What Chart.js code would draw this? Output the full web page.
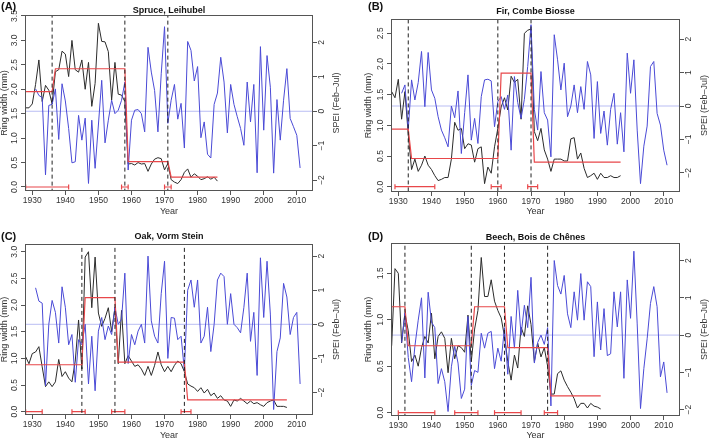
<!DOCTYPE html>
<html>
<head>
<meta charset="utf-8">
<script src="https://cdn.jsdelivr.net/npm/chart.js@4.4.1/dist/chart.umd.min.js"></script>
<style>
  body { margin: 0; background: #fff; }
  #wrap { position: relative; width: 709px; height: 440px; }
  canvas { position: absolute; }
</style>
</head>
<body>
<div id="wrap">
  <canvas id="cA"></canvas>
  <canvas id="cB"></canvas>
  <canvas id="cC"></canvas>
  <canvas id="cD"></canvas>
</div>
<script>
// ---- shared ----
const speiFirstYear = 1931;
const xTicks = [1930, 1940, 1950, 1960, 1970, 1980, 1990, 2000, 2010];
const speiTicks = [-2, -1, 0, 1, 2];

// ---- (A) Spruce, Leihubel ----
const speiA = [
  0.65, 0.46, 0.4, -1.85, 0.17, 0.2, 0.65, -0.82, 0.8, 0.3,
  -0.5, -1.5, -1.47, -0.12, -0.84, -0.2, -2.1, -0.26, -1.66, -0.4,
  0.9, -0.92, -0.26, 0.32, -0.07, 0.03, 0.32, 0.85, -1.71, -0.26,
  0.03, 0.05, -0.07, -0.6, 1.86, 1.14, 0.6, -0.6, 1.09, 2.46,
  -0.35, 0.32, 0.78, -0.23, 0.23, -1.07, 2.03, 1.77, 0.88, 1.3,
  -0.77, -0.31, -1.25, -1.36, 0.2, 0.53, 1.57, 0.85, -0.63, 0.78,
  0.2, -0.16, -0.5, -0.99, 0.85, -0.31, 0.78, -1.79, 1.88, -0.55,
  1.62, 0.7, -1.8, 0.34, -0.84, 0.32, 1.24, -0.21, -0.45, -0.7,
  -1.65
];
const rwStartA = 1928;
const rwA = [
  1.62, 1.62, 1.7, 2.1, 2.6, 1.75, 2.08, 1.98, 1.7, 2.36,
  2.4, 2.78, 2.72, 2.26, 3.0, 2.4, 2.35, 2.6, 2.0, 2.55,
  1.65, 2.12, 3.35, 2.98, 2.97, 2.77, 1.78, 2.55, 1.9, 1.88,
  1.75, 0.47, 0.48, 0.45, 0.5, 0.47, 0.48, 0.32, 0.47, 0.57,
  0.6, 0.58, 0.35, 0.48, 0.15, 0.1, 0.07, 0.15, 0.3, 0.37,
  0.2, 0.27, 0.22, 0.15, 0.17, 0.21, 0.16, 0.2, 0.12
];
const breaksA = [1936, 1958, 1971];
const meansA = [1.95, 2.42, 0.52, 0.2];
const meanSpanA = [1928, 1986];
const ciA = [[1928, 1941], [1957, 1959], [1970, 1972]];
const rwTicksA = [0, 0.5, 1, 1.5, 2, 2.5, 3, 3.5];

// ---- (B) Fir, Combe Biosse ----
const speiB = [
  0.38, 0.63, -0.7, 0.78, 0.18, 0.7, 1.63, -0.02, 1.6, 0.48,
  0.23, -0.32, -0.72, -0.95, -1.22, 0.0, -0.35, 0.45, -1.42, -0.2,
  0.93, -1.02, -0.37, -1.12, 0.28, 0.78, 0.8, 0.75, -0.62, 0.13,
  0.28, -0.1, 0.33, -1.32, 0.88, 0.1, -0.37, 0.2, 1.18, 2.43,
  -0.1, -0.72, 1.03, -0.2, -0.42, -1.52, 2.13, 1.38, 0.48, 1.28,
  -0.32, 0.0, 0.63, -0.2, 0.58, -0.1, 1.33, 0.93, -0.97, 0.73,
  -0.82, -0.15, -1.17, -0.1, 0.38, -1.14, -0.2, -1.37, 1.58, 0.38,
  1.38, -0.72, -2.32, -1.2, -0.6, 1.18, 1.33, -0.22, -0.57, -1.32,
  -1.77
];
const rwStartB = 1928;
const rwB = [
  1.55, 1.45, 1.75, 1.1, 1.55, 0.85, 0.28, 0.45, 0.25, 0.35,
  0.5, 0.35, 0.28, 0.18, 0.1, 0.12, 0.15, 0.15, 0.45, 1.05,
  0.92, 0.95, 0.62, 0.7, 0.68, 0.4, 0.62, 0.65, 0.05, 0.32,
  0.22, 0.65, 0.95, 1.3, 1.45, 1.25, 1.8, 1.7, 1.75, 1.1,
  2.5, 2.55, 2.57, 0.9, 0.75, 0.95, 0.6, 0.45, 0.25, 0.45,
  0.45, 0.45, 0.42, 0.42, 0.78, 0.8, 0.45, 0.55, 0.3, 0.15,
  0.18, 0.22, 0.12, 0.22, 0.15, 0.15, 0.18, 0.15, 0.15, 0.18
];
const breaksB = [1933, 1960, 1970];
const meansB = [0.94, 0.46, 1.85, 0.4];
const meanSpanB = [1928, 1997];
const ciB = [[1929, 1941], [1958, 1961], [1969, 1972]];
const rwTicksB = [0, 0.5, 1, 1.5, 2, 2.5];

// ---- (C) Oak, Vorm Stein ----
const speiC = [
  1.07, 0.68, 0.62, -1.8, 0.0, 0.7, 0.35, -0.55, 1.1, 0.5,
  -0.6, -0.3, -1.7, -0.45, -0.6, 0.0, -1.75, -0.35, -1.95, -0.2,
  0.2, -0.45, -0.05, -0.3, 0.5, 0.0, 0.15, 1.5, -1.15, -0.3,
  -0.6, -0.2, 0.0, -0.55, 2.0, 0.1, -0.35, -0.55, 0.9, 1.85,
  -1.0, 0.2, 0.18, -0.45, -0.35, -1.35, 1.0, 1.3, 0.5, 1.3,
  -0.55, -0.35, 0.5, -0.8, 0.0, 1.3, 1.5, 1.4, 0.0, 0.9,
  0.0, -0.1, -0.25, 0.5, 1.5, -0.5, 0.35, -1.5, 1.95, 0.2,
  1.85, 0.3, -2.5, -0.8, -0.4, 1.2, 0.8, -0.3, 0.2, 0.35,
  -1.75
];
const rwStartC = 1928;
const rwC = [
  1.03, 0.9, 1.09, 1.12, 1.22, 0.84, 0.47, 0.56, 0.47, 0.56,
  0.98, 0.66, 0.75, 0.63, 0.56, 0.95, 1.72, 0.8, 2.9, 3.0,
  1.95, 2.9, 1.85, 1.6, 1.75, 1.95, 1.5, 1.95, 0.9, 1.9,
  0.9, 1.05, 0.95, 0.85, 0.88, 0.8, 0.68, 0.85, 0.68, 0.87,
  1.12, 0.88, 0.75, 0.85, 0.75, 0.87, 0.95, 0.9, 0.75, 0.52,
  0.48, 0.45, 0.38, 0.45, 0.35, 0.42, 0.3, 0.35, 0.25, 0.3,
  0.22, 0.2, 0.1, 0.22, 0.2, 0.25, 0.2, 0.15, 0.2, 0.15,
  0.17, 0.13, 0.1, 0.17, 0.2, 0.22, 0.1, 0.1, 0.1, 0.08
];
const breaksC = [1945, 1955, 1976];
const meansC = [0.88, 2.14, 0.93, 0.22];
const meanSpanC = [1928, 2007];
const ciC = [[1928, 1933], [1942, 1946], [1954, 1958], [1975, 1978]];
const rwTicksC = [0, 0.5, 1, 1.5, 2, 2.5, 3];

// ---- (D) Beech, Bois de Chênes ----
const speiD = [
  -0.2, 0.6, -0.6, -1.25, -0.3, 0.4, 1.0, -1.15, 1.15, 0.35,
  0.2, -1.3, -0.9, -1.25, -2.05, -0.85, -0.3, -0.75, -1.7, -1.45,
  0.5, -1.35, -0.95, -1.0, 0.05, -0.35, 0.05, 0.1, -0.9, -0.35,
  -0.7, 0.2, -1.05, 0.5, -0.35, 1.2, 0.0, 0.8, 0.2, 1.55,
  -0.75, -0.2, 0.0, -0.25, 0.2, -1.9, 2.0, 1.33, 1.1, 1.6,
  0.57, 0.2, 1.16, 0.4, 1.65, 0.4, 1.43, 1.3, -0.58, 0.89,
  -0.4, 0.71, -0.55, -0.5, 1.16, 0.22, 1.16, -1.16, 1.48, 0.45,
  2.25, 0.3, -1.97, -0.9, -0.1, 0.85, 1.3, 0.76, -1.12, -0.72,
  -1.55
];
const rwStartD = 1928;
const rwD = [
  0.72, 1.55, 1.5, 0.75, 1.07, 0.88, 0.55, 0.62, 0.5, 0.7,
  0.82, 0.75, 1.07, 0.58, 0.82, 0.87, 0.8, 0.43, 0.8, 0.58,
  0.72, 0.7, 0.65, 1.05, 0.55, 0.9, 1.1, 1.67, 1.25, 1.25,
  1.43, 1.2, 1.1, 1.02, 0.82, 0.55, 0.35, 0.62, 0.48, 0.92,
  0.82, 1.15, 0.95, 0.55, 0.75, 0.6, 0.7, 0.5, 0.2, 0.2,
  0.42, 0.45, 0.35, 0.28, 0.22, 0.15, 0.05, 0.1, 0.1, 0.05,
  0.1, 0.07, 0.06, 0.04
];
const breaksD = [1932, 1952, 1962, 1975];
const meansD = [1.14, 0.72, 1.14, 0.7, 0.18];
const meanSpanD = [1928, 1991];
const ciD = [[1930, 1941], [1947, 1954], [1959, 1967], [1974, 1978]];
const rwTicksD = [0, 0.5, 1, 1.5];

// ---- drawing ----
const FONT_N = '"Liberation Sans Narrow", "Arial Narrow", "Liberation Sans", Arial, sans-serif';
const FONT_R = '"Liberation Sans", Arial, sans-serif';
const BLUE = '#4a4ad6';
const RED = '#e8474a';
const INK = '#2b2b2b';

const frameText = {
  id: 'frameText',
  afterDraw(chart, args, o) {
    const { ctx, chartArea: a } = chart;
    const cx = (a.left + a.right) / 2;
    const cy = (a.top + a.bottom) / 2;
    ctx.save();
    ctx.strokeStyle = '#555';
    ctx.lineWidth = 1;
    ctx.strokeRect(Math.round(a.left) + 0.5, Math.round(a.top) + 0.5,
      Math.round(a.right - a.left) - 1, Math.round(a.bottom - a.top) - 1);

    ctx.textBaseline = 'middle';
    ctx.fillStyle = '#111';
    ctx.textAlign = 'left';
    ctx.font = 'bold 11px ' + FONT_R;
    ctx.fillText(o.letter, o.letterX, o.letterY);

    ctx.textAlign = 'center';
    ctx.font = 'bold 9px ' + FONT_N;
    ctx.fillText(o.title, cx, o.titleY);

    ctx.fillStyle = '#333';
    ctx.font = '9px ' + FONT_R;
    ctx.fillText('Year', cx, a.bottom + o.yearGap);

    ctx.save();
    ctx.translate(o.leftTitleX, cy);
    ctx.rotate(-Math.PI / 2);
    ctx.fillText('Ring width (mm)', 0, 0);
    ctx.restore();

    ctx.save();
    ctx.translate(a.right + o.rightTitleGap, cy);
    ctx.rotate(-Math.PI / 2);
    ctx.fillText('SPEI (Feb\u2013Jul)', 0, 0);
    ctx.restore();
    ctx.restore();
  }
};

function makePanel(p) {
  const cv = document.getElementById(p.id);
  const [bx, by, W, H] = p.box;
  cv.width = W; cv.height = H;
  cv.style.left = bx + 'px'; cv.style.top = by + 'px';
  cv.style.width = W + 'px'; cv.style.height = H + 'px';
  const plotL = p.plot[0] - bx, plotR = p.plot[1] - bx;
  const plotT = p.plot[2] - by, plotB = p.plot[3] - by;

  const blue = p.spei.map((v, i) => ({ x: speiFirstYear + i, y: v }));
  const black = p.rw.map((v, i) => ({ x: p.rwStart + i, y: v }));

  const starts = [p.meanSpan[0]].concat(p.breaks.map(b => b + 1));
  const ends = p.breaks.concat([p.meanSpan[1]]);
  const red = [];
  p.means.forEach((m, i) => { red.push({ x: starts[i], y: m }, { x: ends[i], y: m }); });

  const dashed = [];
  p.breaks.forEach(b => { dashed.push({ x: b, y: -10 }, { x: b, y: 10 }, { x: b, y: null }); });

  const ci = [];
  p.ci.forEach(([lo, hi]) => { ci.push({ x: lo, y: 0 }, { x: hi, y: 0 }, { x: hi, y: null }); });

  const tickFont = { family: FONT_N, size: 8.5 };
  const line = { pointRadius: 0, pointHoverRadius: 0, fill: false, tension: 0, spanGaps: false };

  new Chart(cv, {
    type: 'line',
    data: {
      datasets: [
        Object.assign({ data: dashed, yAxisID: 'y', borderColor: '#222', borderWidth: 1, borderDash: [4, 3] }, line),
        Object.assign({ data: red, yAxisID: 'y', borderColor: RED, borderWidth: 1.2 }, line),
        Object.assign({}, line, { data: ci, yAxisID: 'y', borderColor: RED, borderWidth: 1.2,
          pointRadius: 2.5, pointStyle: 'line', rotation: 90, pointBorderColor: RED, pointBorderWidth: 1.2 }),
        Object.assign({ data: blue, yAxisID: 'y2', borderColor: BLUE, borderWidth: 1 }, line),
        Object.assign({ data: black, yAxisID: 'y', borderColor: INK, borderWidth: 1 }, line),
        Object.assign({ data: [{ x: 1900, y: 0 }, { x: 2100, y: 0 }], yAxisID: 'y2', borderColor: '#b9bdf3', borderWidth: 1 }, line)
      ]
    },
    options: {
      responsive: false,
      animation: false,
      events: [],
      layout: { autoPadding: false, padding: { left: 0, right: 0, top: plotT, bottom: 0 } },
      plugins: {
        legend: { display: false },
        title: { display: false },
        tooltip: { enabled: false },
        frameText: p.text
      },
      scales: {
        x: {
          type: 'linear', position: 'bottom', min: 1927.8, max: 2014.9,
          afterBuildTicks: s => { s.ticks = xTicks.map(v => ({ value: v })); },
          afterFit: s => { s.height = H - plotB; },
          ticks: { autoSkip: false, maxRotation: 0, minRotation: 0, padding: 1, color: '#333',
            font: tickFont, callback: v => String(v) },
          grid: { drawOnChartArea: false, drawTicks: true, tickLength: 4, color: '#555' },
          border: { display: false }
        },
        y: {
          type: 'linear', position: 'left', min: p.rwRange[0], max: p.rwRange[1],
          afterBuildTicks: s => { s.ticks = p.rwTicks.map(v => ({ value: v })); },
          afterFit: s => { s.width = plotL; },
          ticks: { autoSkip: false, minRotation: 90, maxRotation: 90, crossAlign: 'center', padding: 0,
            color: '#333', font: tickFont, callback: v => v.toFixed(1) },
          grid: { drawOnChartArea: false, drawTicks: true, tickLength: 4, color: '#555' },
          border: { display: false }
        },
        y2: {
          type: 'linear', position: 'right', min: p.speiRange[0], max: p.speiRange[1],
          afterBuildTicks: s => { s.ticks = speiTicks.map(v => ({ value: v })); },
          afterFit: s => { s.width = W - plotR; },
          ticks: { autoSkip: false, minRotation: 90, maxRotation: 90, crossAlign: 'center', padding: 0,
            color: '#333', font: tickFont, callback: v => (v < 0 ? '\u2212' + (-v) : String(v)) },
          grid: { drawOnChartArea: false, drawTicks: true, tickLength: 4, color: '#555' },
          border: { display: false }
        }
      }
    },
    plugins: [frameText]
  });
}

makePanel({
  id: 'cA', box: [0, 0, 354, 220], plot: [25, 313, 15, 191],
  rwRange: [-0.082, 3.52], speiRange: [-2.32, 2.8], rwTicks: rwTicksA,
  spei: speiA, rw: rwA, rwStart: rwStartA, breaks: breaksA, means: meansA, meanSpan: meanSpanA, ci: ciA,
  text: { letter: '(A)', letterX: 1, letterY: 7, title: 'Spruce, Leihubel', titleY: 11,
    leftTitleX: 5, rightTitleGap: 24, yearGap: 21 }
});
makePanel({
  id: 'cB', box: [354, 0, 355, 220], plot: [391, 680, 19, 192],
  rwRange: [-0.086, 2.733], speiRange: [-2.57, 2.6], rwTicks: rwTicksB,
  spei: speiB, rw: rwB, rwStart: rwStartB, breaks: breaksB, means: meansB, meanSpan: meanSpanB, ci: ciB,
  text: { letter: '(B)', letterX: 14, letterY: 7, title: 'Fir, Combe Biosse', titleY: 12,
    leftTitleX: 15, rightTitleGap: 25, yearGap: 20 }
});
makePanel({
  id: 'cC', box: [0, 220, 354, 220], plot: [25, 313, 244, 415],
  rwRange: [-0.062, 3.145], speiRange: [-2.66, 2.355], rwTicks: rwTicksC,
  spei: speiC, rw: rwC, rwStart: rwStartC, breaks: breaksC, means: meansC, meanSpan: meanSpanC, ci: ciC,
  text: { letter: '(C)', letterX: 1, letterY: 17, title: 'Oak, Vorm Stein', titleY: 17,
    leftTitleX: 5, rightTitleGap: 24, yearGap: 21 }
});
makePanel({
  id: 'cD', box: [354, 220, 355, 220], plot: [391, 680, 243, 416],
  rwRange: [-0.036, 1.826], speiRange: [-2.17, 2.47], rwTicks: rwTicksD,
  spei: speiD, rw: rwD, rwStart: rwStartD, breaks: breaksD, means: meansD, meanSpan: meanSpanD, ci: ciD,
  text: { letter: '(D)', letterX: 14, letterY: 17, title: 'Beech, Bois de Ch\u00eanes', titleY: 18,
    leftTitleX: 15, rightTitleGap: 25, yearGap: 20 }
});
</script>
</body>
</html>
